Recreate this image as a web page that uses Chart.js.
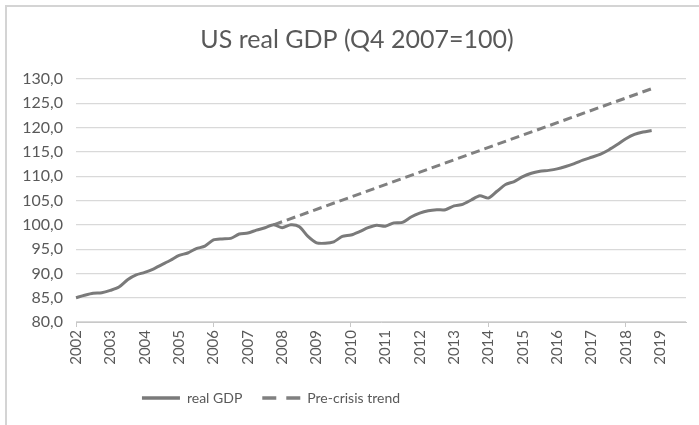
<!DOCTYPE html>
<html>
<head>
<meta charset="utf-8">
<script src="https://cdn.jsdelivr.net/npm/chart.js@4/dist/chart.umd.min.js"></script>
<style>
    body { margin: 0; background: #fff; }
    #frame {
        position: absolute; left: 5px; top: 5px; width: 720px; height: 450px;
        border-left: 2px solid #d4d4d4; border-top: 2px solid #d4d4d4;
    }
    #wrap { position: absolute; left: 0; top: 0; width: 699px; height: 425px; }
</style>
</head>
<body>
<div id="frame"></div>
<div id="wrap"><canvas id="gdpChart" width="699" height="425"></canvas></div>
<script>
// quarterly axis, 2002Q1 .. 2019Q4
const years = [2002, 2003, 2004, 2005, 2006, 2007, 2008, 2009, 2010,
    2011, 2012, 2013, 2014, 2015, 2016, 2017, 2018, 2019];
const quarters = ['Q1', 'Q2', 'Q3', 'Q4'];
const labels = years.flatMap(y => quarters.map(q => y + q));

// real GDP, Q4 2007 = 100 (2002Q1 .. 2018Q4)
const realGdp = [
    85.0, 85.5, 85.9, 86.0,
    86.5, 87.2, 88.7, 89.7,
    90.2, 90.9, 91.8, 92.7,
    93.7, 94.2, 95.1, 95.6,
    96.9, 97.1, 97.2, 98.1,
    98.3, 98.9, 99.4, 100.0,
    99.4, 100.0, 99.6, 97.6,
    96.3, 96.2, 96.5, 97.6,
    97.9, 98.6, 99.4, 99.9,
    99.7, 100.4, 100.5, 101.6,
    102.4, 102.9, 103.1, 103.1,
    103.9, 104.2, 105.1, 106.0,
    105.5, 106.9, 108.3, 108.9,
    109.9, 110.6, 111.0, 111.2,
    111.5, 112.0, 112.6, 113.3,
    113.9, 114.5, 115.4, 116.5,
    117.7, 118.6, 119.1, 119.4
];

// pre-crisis trend: straight line from the Q4 2007 peak
const trendQuarters = ['2007Q4', '2018Q4'];
const trendValues = [100.0, 128.0];

const textColor = '#595959';
const gridColor = '#d9d9d9';

// shift title / legend the way the original (cropped) chart has them
const shiftBlocks = {
    id: 'shiftBlocks',
    afterLayout(chart) {
        if (chart.titleBlock) {
            chart.titleBlock.left += 14;
            chart.titleBlock.right += 14;
        }
        if (chart.legend) {
            chart.legend.left -= 72;
            chart.legend.right -= 72;
        }
    }
};

document.addEventListener('DOMContentLoaded', () => {
    const ctx = document.getElementById('gdpChart').getContext('2d');

    new Chart(ctx, {
        type: 'line',
        data: {
            labels: labels,
            datasets: [{
                label: 'real GDP',
                data: realGdp,
                borderColor: '#7a7a7a',
                backgroundColor: '#7a7a7a',
                borderWidth: 3,
                pointRadius: 0,
                tension: 0.25,
                fill: false
            }, {
                label: 'Pre-crisis trend',
                data: trendQuarters.map((q, i) => ({ x: q, y: trendValues[i] })),
                borderColor: '#808080',
                backgroundColor: '#808080',
                borderWidth: 3,
                borderDash: [9, 5],
                pointRadius: 0,
                fill: false
            }]
        },
        options: {
            responsive: false,
            animation: false,
            layout: { padding: { top: 20, right: 13, bottom: 10, left: 0 } },
            plugins: {
                title: {
                    display: true,
                    text: 'US real GDP (Q4 2007=100)',
                    color: textColor,
                    font: { family: 'Lato', size: 25, weight: 'normal' },
                    padding: { top: 5, bottom: 24 }
                },
                legend: {
                    position: 'bottom',
                    labels: {
                        color: textColor,
                        font: { family: 'Lato', size: 14 },
                        usePointStyle: true,
                        pointStyle: 'line',
                        pointStyleWidth: 38,
                        padding: 20,
                        generateLabels: (chart) => {
                            const items = Chart.defaults.plugins.legend.labels.generateLabels(chart);
                            items.forEach(item => {
                                const ds = chart.data.datasets[item.datasetIndex];
                                item.lineWidth = 3.5;
                                item.strokeStyle = ds.borderColor;
                                item.lineDash = ds.borderDash ? [14, 10] : [];
                            });
                            return items;
                        }
                    }
                },
                tooltip: { enabled: false }
            },
            scales: {
                x: {
                    type: 'category',
                    offset: false,
                    afterFit: (s) => { s.height = 49; },
                    grid: {
                        drawOnChartArea: false,
                        drawTicks: true,
                        tickLength: 5,
                        tickColor: (c) => (c.index % 4 === 0 ? '#c8c8c8' : 'rgba(0,0,0,0)')
                    },
                    border: { display: true, color: '#c8c8c8', width: 1 },
                    ticks: {
                        autoSkip: false,
                        maxRotation: 90,
                        minRotation: 90,
                        padding: 3,
                        color: textColor,
                        font: { family: 'Lato', size: 15 },
                        callback: function (value, index) {
                            return index % 4 === 0 ? this.getLabelForValue(value).slice(0, 4) : null;
                        }
                    }
                },
                y: {
                    min: 80,
                    max: 130,
                    afterFit: (s) => { s.width = 76; },
                    grid: { color: gridColor, drawTicks: false, lineWidth: 1.2 },
                    border: { display: false },
                    ticks: {
                        stepSize: 5,
                        padding: 13,
                        color: textColor,
                        font: { family: 'Lato', size: 16 },
                        callback: (v) => v.toFixed(1).replace('.', ',')
                    }
                }
            }
        },
        plugins: [shiftBlocks]
    });
});
</script>
</body>
</html>
